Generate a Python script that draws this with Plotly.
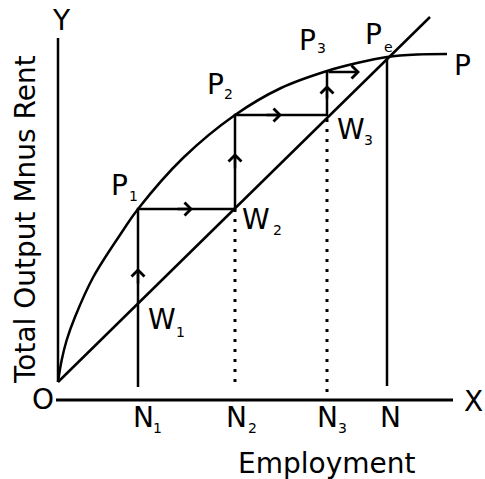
import plotly.graph_objects as go

# ---- data (diagram units: origin O at x=0, y=0) ----
curve_x = [0.0, 0.37, 0.87, 1.7, 3.53, 6.53, 8.0, 12.5, 17.7, 22.3, 26.9, 29.9, 32.9, 35.9, 38.9]
curve_y = [1.8, 4.0, 6.0, 8.3, 12.3, 17.0, 19.1, 24.2, 28.5, 31.2, 32.9, 33.7, 34.3, 34.55, 34.6]

wage_x = [0.0, 37.2]
wage_y = [1.8, 38.3]

# staircase: N1 -> P1 -> W2 -> P2 -> W3 -> P3
stair_x = [8.0, 8.0, 17.7, 17.7, 26.9, 26.9]
stair_y = [1.3, 19.1, 19.1, 28.5, 28.5, 32.8]

# dotted drop lines at N2, N3
n2_x = [17.7, 17.7]
n2_y = [1.8, 19.1]
n3_x = [26.9, 26.9]
n3_y = [0.8, 28.5]

# equilibrium employment line N -> Pe
ne_x = [32.9, 32.9]
ne_y = [1.4, 34.3]

# axes
yaxis_x = [0.0, 0.0]
yaxis_y = [1.8, 36.2]
xaxis_x = [-0.2, 39.5]
xaxis_y = [0.0, 0.0]

# arrow chevrons: (tip_x, tip_y, tail_x, tail_y)
arrows = [
    (8.0, 13.2, 8.0, 11.5),
    (13.5, 19.1, 11.8, 19.1),
    (17.7, 24.7, 17.7, 23.0),
    (22.4, 28.5, 20.7, 28.5),
    (26.9, 31.5, 26.9, 30.0),
    (30.2, 32.8, 26.9, 32.8),
]

# labels: (text, x, y, size)
labels = [
    ("Y", 0.3, 38.0, 28),
    ("O", -1.5, 0.1, 28),
    ("X", 41.5, -0.1, 28),
    ("P", 6.1, 21.5, 28), ("1", 7.5, 20.4, 14),
    ("P", 15.7, 31.6, 28), ("2", 17.0, 30.6, 14),
    ("P", 24.9, 36.0, 28), ("3", 26.3, 35.2, 14),
    ("P", 31.5, 36.6, 28), ("e", 33.0, 35.3, 14),
    ("P", 40.4, 33.5, 28),
    ("W", 10.4, 8.1, 28), ("1", 12.2, 6.8, 14),
    ("W", 19.8, 18.1, 28), ("2", 21.9, 17.0, 14),
    ("W", 29.3, 27.1, 28), ("3", 31.0, 26.0, 14),
    ("N", 8.5, -1.7, 28), ("1", 9.9, -2.8, 14),
    ("N", 17.8, -1.7, 28), ("2", 19.4, -2.8, 14),
    ("N", 26.9, -1.7, 28), ("3", 28.4, -2.8, 14),
    ("N", 33.2, -1.7, 28),
    ("Employment", 26.8, -6.3, 28),
]

ytitle = "Total Output Mnus Rent"

FONT = "DejaVu Sans"
LW = 2.5

fig = go.Figure()

def add_line(xs, ys, width=LW, dash="solid", shape="linear"):
    fig.add_trace(go.Scatter(x=xs, y=ys, mode="lines",
                             line=dict(color="black", width=width, dash=dash, shape=shape),
                             hoverinfo="skip", showlegend=False))

add_line(yaxis_x, yaxis_y, width=2.5)
add_line(xaxis_x, xaxis_y, width=3)
add_line(curve_x, curve_y, shape="spline")
add_line(wage_x, wage_y)
add_line(stair_x, stair_y)
add_line(n2_x, n2_y, width=3, dash="3px,7px")
add_line(n3_x, n3_y, width=3, dash="3px,7px")
add_line(ne_x, ne_y)

for tx, ty, sx, sy in arrows:
    fig.add_annotation(x=tx, y=ty, ax=sx, ay=sy, xref="x", yref="y",
                       axref="x", ayref="y", text="", showarrow=True,
                       arrowhead=4, arrowsize=1.0, arrowwidth=2.5,
                       arrowcolor="black")

for text, x, y, size in labels:
    fig.add_annotation(x=x, y=y, xref="x", yref="y", text=text, showarrow=False,
                       font=dict(family=FONT, size=size, color="black"),
                       xanchor="center", yanchor="middle")

fig.add_annotation(x=-3.3, y=18.0, xref="x", yref="y", text=ytitle, showarrow=False,
                   textangle=-90, font=dict(family=FONT, size=28, color="black"),
                   xanchor="center", yanchor="middle")

fig.update_layout(
    width=485, height=479,
    margin=dict(l=0, r=0, t=0, b=0),
    paper_bgcolor="white", plot_bgcolor="white",
    xaxis=dict(range=[-5.8, 42.7], visible=False, fixedrange=True),
    yaxis=dict(range=[-7.9, 40.0], visible=False, fixedrange=True),
    showlegend=False,
    hovermode=False,
)

# remove the browser's default 8px body margin so the figure fills the window
fig.write_html("out.html", config={"displayModeBar": False},
               post_script="document.body.style.margin='0';")
